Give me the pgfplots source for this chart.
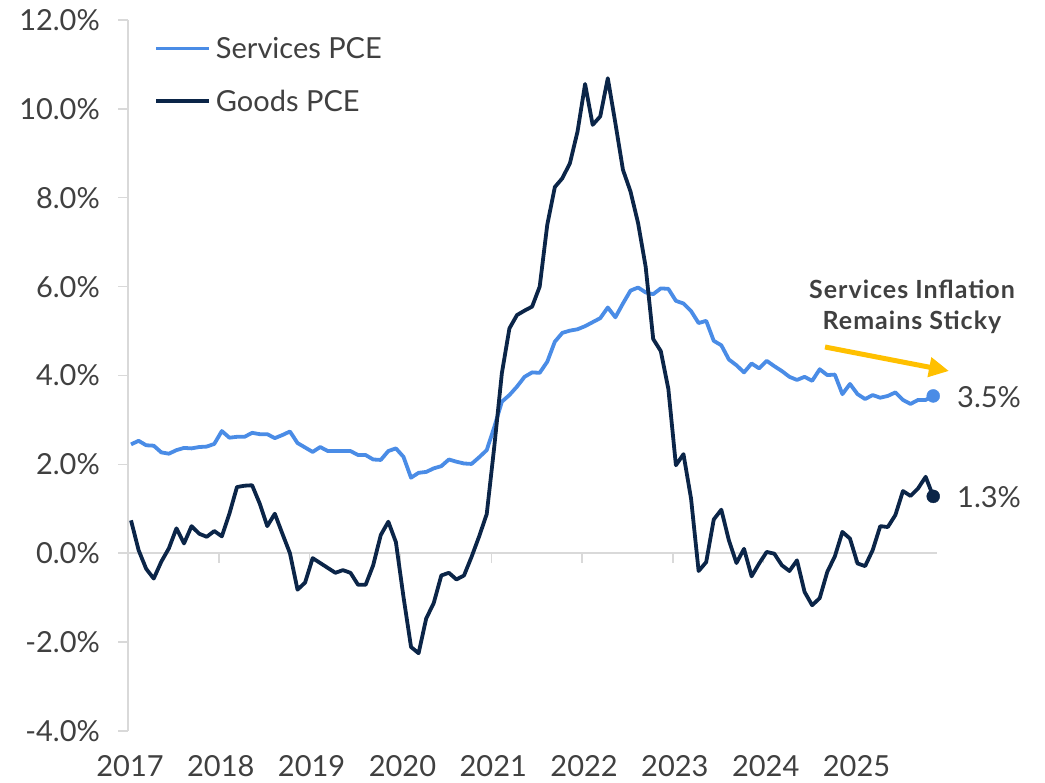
\documentclass[border=0pt]{standalone}
\usepackage{fontspec}
\setmainfont{Lato}
\newfontfamily\annotfont[LetterSpace=4]{Lato}
\usepackage{pgfplots}
\pgfplotsset{compat=1.18}
\usetikzlibrary{arrows.meta}
\definecolor{servblue}{HTML}{4A8CE6}
\definecolor{goodsnavy}{HTML}{0B2548}
\definecolor{axisgray}{HTML}{D9D9D9}
\definecolor{textgray}{HTML}{404040}
\definecolor{arrowgold}{HTML}{FFC000}
\begin{document}
\begin{tikzpicture}
\useasboundingbox (0,0) rectangle (1045bp,783bp);
\begin{axis}[
  at={(128bp,52bp)}, anchor=south west,
  scale only axis, width=809bp, height=711bp,
  xmin=-0.4, xmax=106.5, ymin=-4, ymax=12,
  axis lines*=left,
  x axis line style={draw=none},
  y axis line style={draw=axisgray, line width=1.5bp},
  xtick={-0.4,11.6,23.6,35.6,47.6,59.6,71.6,83.6,95.6},
  xticklabels={2017,2018,2019,2020,2021,2022,2023,2024,2025},
  ytick={-4,-2,0,2,4,6,8,10,12},
  yticklabels={-4.0\%,-2.0\%,0.0\%,2.0\%,4.0\%,6.0\%,8.0\%,10.0\%,12.0\%},
  xtick style={draw=none},
  ytick style={draw=axisgray, line width=1.5bp},
  tick align=outside, major tick length=10bp,
  tick label style={font=\fontsize{29bp}{34bp}\selectfont, text=textgray},
  yticklabel style={anchor=east, inner sep=0pt, xshift=-18bp},
  xticklabel style={anchor=north, inner sep=0pt, yshift=-14bp, xshift=2bp},
  clip=false,
  legend cell align=left,
  legend style={at={(0.0321,0.976)}, anchor=north west, draw=none, fill=none,
    inner sep=0pt, row sep=30bp, column sep=5bp,
    nodes={inner sep=0pt, font=\fontsize{29bp}{34bp}\selectfont, text=textgray}},
  legend image code/.code={\draw[#1] (0bp,0bp) -- (53bp,0bp);},
]
\draw[axisgray, line width=1.5bp] (axis cs:-0.4,0) -- (axis cs:106.5,0);
\pgfplotsinvokeforeach{11.6,23.6,35.6,47.6,59.6,71.6,83.6,95.6}{
  \draw[axisgray, line width=1.5bp] (axis cs:#1,0) -- ([yshift=-10bp]axis cs:#1,0);
}
\addplot[servblue, line width=3.8bp, line join=round] table {
0 2.45
1 2.53
2 2.43
3 2.42
4 2.27
5 2.24
6 2.32
7 2.37
8 2.36
9 2.39
10 2.40
11 2.46
12 2.75
13 2.60
14 2.62
15 2.62
16 2.71
17 2.68
18 2.68
19 2.59
20 2.66
21 2.74
22 2.48
23 2.38
24 2.28
25 2.39
26 2.30
27 2.30
28 2.30
29 2.30
30 2.21
31 2.21
32 2.11
33 2.10
34 2.30
35 2.36
36 2.17
37 1.70
38 1.81
39 1.83
40 1.91
41 1.96
42 2.11
43 2.06
44 2.02
45 2.01
46 2.16
47 2.32
48 2.84
49 3.41
50 3.56
51 3.75
52 3.97
53 4.07
54 4.06
55 4.31
56 4.76
57 4.96
58 5.01
59 5.04
60 5.11
61 5.20
62 5.29
63 5.53
64 5.31
65 5.62
66 5.91
67 5.98
68 5.87
69 5.83
70 5.96
71 5.95
72 5.68
73 5.62
74 5.45
75 5.18
76 5.23
77 4.78
78 4.68
79 4.36
80 4.23
81 4.07
82 4.27
83 4.16
84 4.33
85 4.21
86 4.10
87 3.97
88 3.90
89 3.97
90 3.88
91 4.14
92 4.01
93 4.02
94 3.58
95 3.81
96 3.58
97 3.47
98 3.56
99 3.50
100 3.54
101 3.62
102 3.45
103 3.36
104 3.45
105 3.45
106 3.54
};
\addlegendentry{Services PCE}
\addplot[goodsnavy, line width=3.8bp, line join=round] table {
0 0.74
1 0.07
2 -0.35
3 -0.57
4 -0.19
5 0.11
6 0.56
7 0.22
8 0.61
9 0.44
10 0.37
11 0.50
12 0.38
13 0.89
14 1.49
15 1.52
16 1.53
17 1.12
18 0.61
19 0.89
20 0.44
21 0.00
22 -0.82
23 -0.66
24 -0.11
25 -0.22
26 -0.33
27 -0.44
28 -0.38
29 -0.44
30 -0.71
31 -0.71
32 -0.27
33 0.41
34 0.71
35 0.25
36 -0.98
37 -2.11
38 -2.25
39 -1.47
40 -1.12
41 -0.50
42 -0.44
43 -0.59
44 -0.50
45 -0.08
46 0.38
47 0.88
48 2.40
49 4.05
50 5.06
51 5.36
52 5.46
53 5.55
54 6.00
55 7.39
56 8.24
57 8.44
58 8.78
59 9.49
60 10.56
61 9.64
62 9.83
63 10.69
64 9.68
65 8.63
66 8.14
67 7.43
68 6.45
69 4.82
70 4.55
71 3.70
72 1.98
73 2.23
74 1.23
75 -0.40
76 -0.20
77 0.76
78 0.98
79 0.29
80 -0.22
81 0.10
82 -0.52
83 -0.23
84 0.03
85 -0.01
86 -0.27
87 -0.40
88 -0.16
89 -0.87
90 -1.17
91 -1.01
92 -0.42
93 -0.07
94 0.48
95 0.33
96 -0.23
97 -0.29
98 0.07
99 0.61
100 0.59
101 0.86
102 1.40
103 1.29
104 1.46
105 1.72
106 1.28
};
\addlegendentry{Goods PCE}
\addplot[forget plot, only marks, mark=*, mark size=6.5bp, servblue] coordinates {(106,3.54)};
\addplot[forget plot, only marks, mark=*, mark size=6.5bp, goodsnavy] coordinates {(106,1.28)};
\end{axis}
\node[anchor=west, inner sep=0pt, text=textgray, font=\fontsize{29bp}{34bp}\selectfont] at (957bp,386bp) {3.5\%};
\node[anchor=west, inner sep=0pt, text=textgray, font=\fontsize{29bp}{34bp}\selectfont] at (957bp,286bp) {1.3\%};
\node[align=center, inner sep=0pt, text=textgray, font=\annotfont\fontsize{25bp}{31bp}\selectfont\bfseries] at (912bp,476bp) {Services Inflation\\Remains Sticky};
\draw[arrowgold, line width=5bp, -{Triangle[length=20bp,width=19bp]}] (825bp,436bp) -- (949bp,412bp);
\end{tikzpicture}
\end{document}
